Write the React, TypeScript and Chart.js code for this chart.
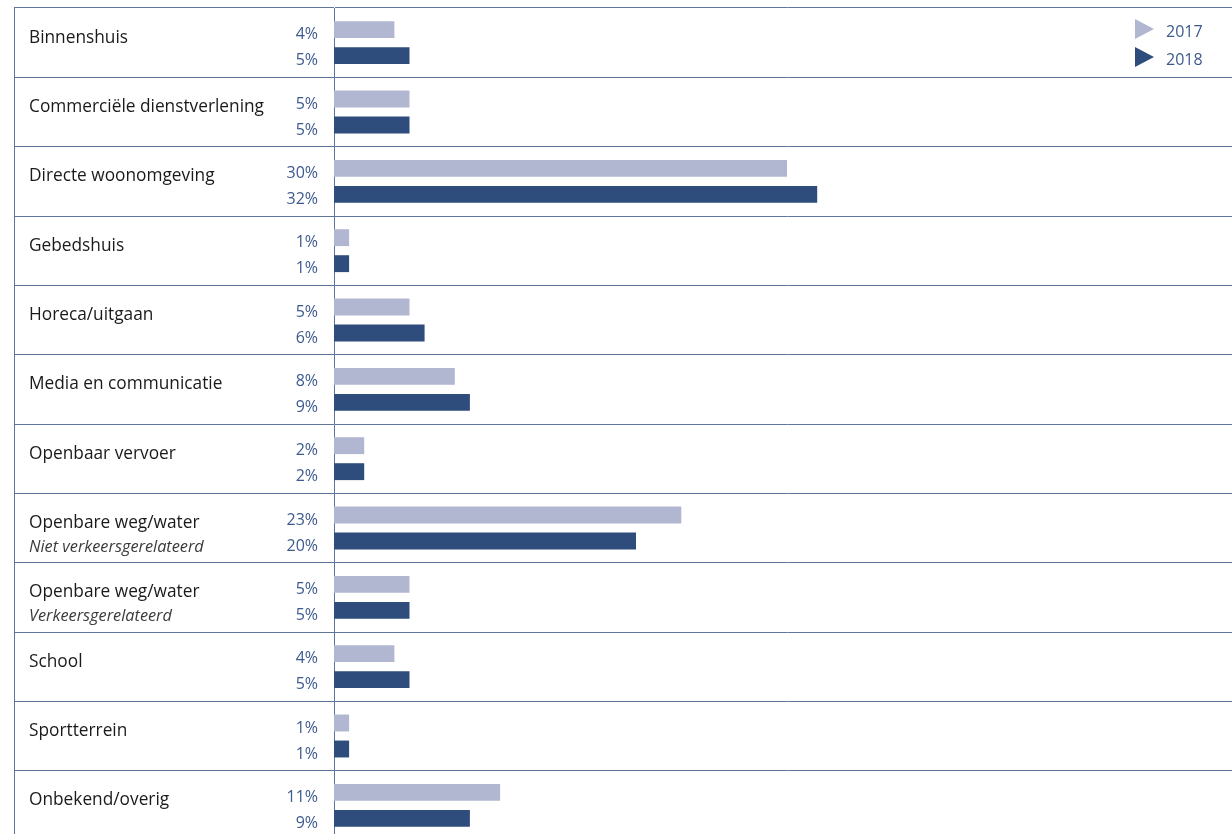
import React, { useEffect, useRef } from "react";
import { Chart, registerables } from "chart.js";

Chart.register(...registerables);

const categories = [
  "Binnenshuis",
  "Commerciële dienstverlening",
  "Directe woonomgeving",
  "Gebedshuis",
  "Horeca/uitgaan",
  "Media en communicatie",
  "Openbaar vervoer",
  "Openbare weg/water",
  "Openbare weg/water",
  "School",
  "Sportterrein",
  "Onbekend/overig",
];
const subLabels = ["", "", "", "", "", "", "", "Niet verkeersgerelateerd", "Verkeersgerelateerd", "", "", ""];
const seriesNames = ["2017", "2018"];
const values2017 = [4, 5, 30, 1, 5, 8, 2, 23, 5, 4, 1, 11];
const values2018 = [5, 5, 32, 1, 6, 9, 2, 20, 5, 5, 1, 9];

const COLOR_2017 = "#b1b6d1";
const COLOR_2018 = "#2e4d7c";
const GRID = "#5f759d";
const VALUE_TEXT = "#3d5a8e";
const FONT = '"Open Sans", "Noto Sans", sans-serif';

const sideTextPlugin = {
  id: "sideText",
  afterDraw(chart: any) {
    const ctx = chart.ctx as CanvasRenderingContext2D;
    const yScale = chart.scales.y;
    const area = chart.chartArea;
    ctx.save();
    // left border
    ctx.strokeStyle = GRID;
    ctx.lineWidth = 1;
    ctx.beginPath();
    ctx.moveTo(14.5, area.top);
    ctx.lineTo(14.5, area.bottom);
    ctx.stroke();

    // category labels
    ctx.textAlign = "left";
    ctx.textBaseline = "middle";
    categories.forEach((c, i) => {
      const cy = yScale.getPixelForValue(i);
      ctx.font = `17.3px ${FONT}`;
      ctx.fillStyle = "#1a1a1a";
      ctx.fillText(c, 29, cy - 5);
      if (subLabels[i]) {
        ctx.font = `italic 16.3px ${FONT}`;
        ctx.fillStyle = "#3a3a3a";
        ctx.fillText(subLabels[i], 29, cy + 19);
      }
    });

    // value labels
    ctx.textAlign = "right";
    ctx.font = `16px ${FONT}`;
    ctx.fillStyle = VALUE_TEXT;
    chart.data.datasets.forEach((ds: any, di: number) => {
      const meta = chart.getDatasetMeta(di);
      meta.data.forEach((el: any, i: number) => {
        ctx.fillText(`${ds.data[i]}%`, 318, el.y + 5);
      });
    });

    // legend
    const legendColors = [COLOR_2017, COLOR_2018];
    const legendY = [29, 57];
    seriesNames.forEach((name, i) => {
      const cy = legendY[i];
      ctx.fillStyle = legendColors[i];
      ctx.beginPath();
      ctx.moveTo(1135, cy - 10);
      ctx.lineTo(1154, cy);
      ctx.lineTo(1135, cy + 10);
      ctx.closePath();
      ctx.fill();
      ctx.fillStyle = VALUE_TEXT;
      ctx.textAlign = "left";
      ctx.font = `16px ${FONT}`;
      ctx.fillText(name, 1166, cy + 3);
    });
    ctx.restore();
  },
};

export default function App() {
  const canvasRef = useRef<HTMLCanvasElement | null>(null);

  useEffect(() => {
    if (!canvasRef.current) return;
    const chart = new Chart(canvasRef.current, {
      type: "bar",
      data: {
        labels: categories,
        datasets: [
          {
            label: seriesNames[0],
            data: values2017,
            backgroundColor: COLOR_2017,
            categoryPercentage: 0.75,
            barPercentage: 0.65,
          },
          {
            label: seriesNames[1],
            data: values2018,
            backgroundColor: COLOR_2018,
            categoryPercentage: 0.75,
            barPercentage: 0.65,
          },
        ],
      },
      options: {
        indexAxis: "y",
        responsive: false,
        animation: false,
        layout: { padding: { left: 14, top: 8, bottom: 0, right: 20 } },
        plugins: {
          legend: { display: false },
          tooltip: { enabled: false },
        },
        scales: {
          x: {
            display: false,
            min: 0,
            max: 60,
          },
          y: {
            display: true,
            ticks: { display: false },
            grid: {
              display: true,
              offset: true,
              drawTicks: true,
              tickLength: 320,
              color: GRID,
              lineWidth: 1,
            },
            border: { display: true, color: GRID, width: 1 },
            afterFit(scale: any) {
              scale.width = 320;
            },
          },
        },
      },
      plugins: [sideTextPlugin],
    });
    return () => chart.destroy();
  }, []);

  return (
    <div
      style={{
        position: "fixed",
        left: 0,
        top: 0,
        width: 1232,
        height: 834,
        overflow: "hidden",
        background: "#ffffff",
      }}
    >
      <canvas ref={canvasRef} width={1260} height={840} style={{ width: 1260, height: 840, display: "block" }} />
    </div>
  );
}
